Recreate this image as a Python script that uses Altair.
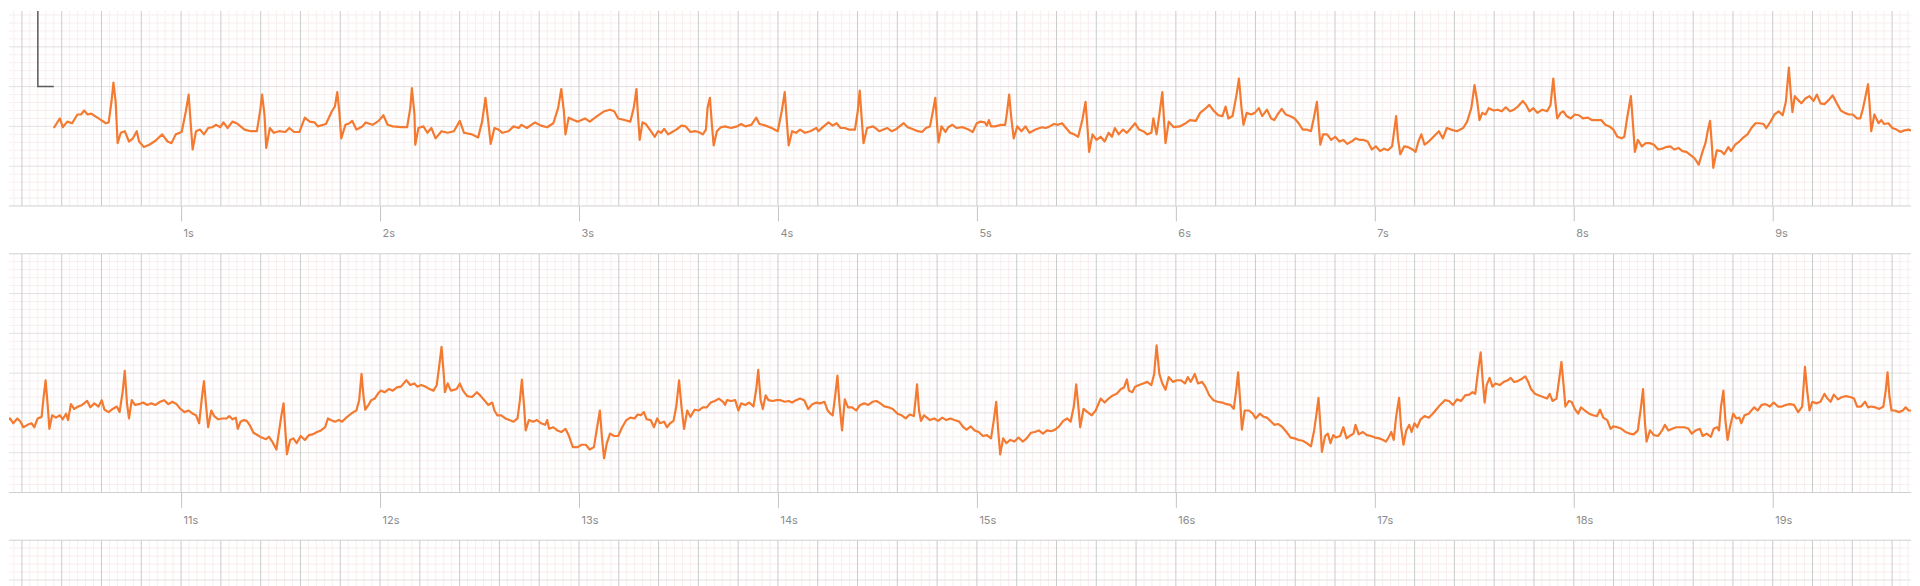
import altair as alt
import pandas as pd

# ---------------- data (time in s, amplitude in mV) ----------------
CAL = [(0.0, 0.5), (0.08, 0.5), (0.08, 1.5), (0.28, 1.5), (0.28, 0.5), (0.36, 0.5)]

ROW1_A = [(0.360,-0.02),(0.391,0.10),(0.405,-0.01),(0.428,0.06),(0.452,0.04),(0.479,0.15),(0.497,0.15),(0.513,0.20),(0.530,0.15),(0.548,0.16),(0.585,0.10),(0.622,0.04),(0.636,0.05),(0.650,0.31),(0.660,0.55),(0.671,0.31),(0.681,-0.21),(0.697,-0.08),(0.717,-0.06),(0.738,-0.19),(0.758,-0.15),(0.777,-0.06),(0.789,-0.19),(0.813,-0.26),(0.840,-0.23),(0.871,-0.18),(0.905,-0.10),(0.932,-0.19),(0.952,-0.21),(0.973,-0.10),(1.003,-0.07),(1.024,0.19),(1.038,0.40),(1.050,-0.02),(1.058,-0.29),(1.075,-0.06),(1.095,-0.04),(1.115,-0.10),(1.136,-0.02),(1.156,-0.01),(1.177,0.02),(1.197,-0.01),(1.213,0.05),(1.234,-0.02),(1.258,0.06),(1.279,0.04),(1.319,-0.04),(1.350,-0.06),(1.381,-0.06),(1.397,0.19),(1.407,0.40),(1.419,0.15),(1.428,-0.27),(1.446,-0.02),(1.466,-0.08),(1.493,-0.06),(1.524,-0.07),(1.544,-0.02),(1.568,-0.07),(1.595,-0.07),(1.622,0.11),(1.646,0.06),(1.671,0.05),(1.687,0.00),(1.728,0.03),(1.758,0.19),(1.773,0.25),(1.785,0.43),(1.795,0.19),(1.805,-0.15),(1.826,0.02),(1.846,0.04),(1.860,0.07),(1.881,-0.04),(1.911,0.00),(1.928,0.05),(1.962,0.02),(1.993,0.07),(2.017,0.14),(2.038,0.02),(2.064,0.00),(2.105,-0.01),(2.136,-0.01),(2.152,0.23),(2.160,0.48),(2.173,0.15),(2.177,-0.23),(2.193,-0.02),(2.218,0.00),(2.238,-0.08),(2.258,-0.02),(2.279,-0.15),(2.309,-0.06),(2.340,-0.08),(2.371,-0.06),(2.401,0.07),(2.422,-0.08),(2.462,-0.10),(2.493,-0.14),(2.513,0.06),(2.530,0.36),(2.544,0.06),(2.556,-0.22),(2.575,-0.02),(2.595,-0.04),(2.615,-0.08),(2.646,-0.06),(2.671,0.00),(2.697,-0.02),(2.711,0.02),(2.738,-0.02),(2.779,0.05),(2.809,0.01),(2.840,-0.01),(2.871,0.04),(2.895,0.23),(2.911,0.47),(2.924,0.19),(2.932,-0.10),(2.948,0.11),(2.973,0.08),(2.993,0.06),(3.030,0.10),(3.054,0.06),(3.091,0.13),(3.126,0.19),(3.156,0.21),(3.177,0.19),(3.197,0.10),(3.228,0.08),(3.258,0.06),(3.275,0.23),(3.289,0.47)]

ROW1_B = [(3.295,0.19),(3.305,-0.17),(3.319,0.05),(3.336,0.03),(3.356,-0.04),(3.381,-0.13),(3.397,-0.06),(3.413,-0.08),(3.428,-0.03),(3.448,-0.10),(3.468,-0.07),(3.489,-0.04),(3.515,0.01),(3.536,0.00),(3.560,-0.07),(3.581,-0.06),(3.601,-0.07),(3.622,-0.10),(3.638,-0.04),(3.646,0.23),(3.658,0.36),(3.668,0.02),(3.677,-0.24),(3.693,-0.06),(3.713,-0.01),(3.734,0.00),(3.764,-0.02),(3.795,0.00),(3.815,0.03),(3.836,0.00),(3.866,0.02),(3.891,0.11),(3.907,0.03),(3.938,0.01),(3.968,-0.02),(3.999,-0.06),(4.019,0.19),(4.034,0.43),(4.046,0.02),(4.054,-0.24),(4.071,-0.06),(4.091,-0.08),(4.111,-0.04),(4.136,-0.08),(4.162,-0.06),(4.193,-0.02),(4.203,-0.06),(4.230,0.00),(4.254,0.05),(4.275,0.01),(4.295,0.04),(4.315,-0.02),(4.336,-0.02),(4.356,-0.04),(4.387,-0.04),(4.401,0.19),(4.411,0.45),(4.422,0.06),(4.430,-0.21),(4.448,-0.02),(4.479,0.00),(4.509,-0.06),(4.530,-0.04),(4.550,-0.02),(4.571,-0.06),(4.591,-0.04),(4.611,0.00),(4.632,0.04),(4.652,-0.01),(4.673,-0.03),(4.703,-0.06),(4.724,-0.07),(4.744,-0.02),(4.764,0.00),(4.779,0.19),(4.791,0.36),(4.801,-0.02),(4.807,-0.20),(4.822,0.00),(4.842,-0.07),(4.856,-0.01),(4.877,0.02),(4.897,-0.02),(4.928,-0.01),(4.958,-0.04),(4.979,-0.07),(4.999,0.04),(5.019,0.06),(5.040,0.05),(5.050,0.01),(5.060,0.08),(5.071,0.00),(5.091,0.00),(5.122,0.02),(5.142,0.02),(5.152,0.19),(5.162,0.40),(5.173,0.10),(5.185,-0.15),(5.203,0.00),(5.224,-0.06),(5.244,0.00),(5.264,-0.08),(5.295,-0.04),(5.326,-0.01),(5.346,-0.02),(5.366,0.00),(5.387,0.03),(5.407,0.02),(5.428,0.04),(5.448,-0.02),(5.468,-0.08),(5.489,-0.10),(5.509,-0.13),(5.530,0.08),(5.546,0.31),(5.556,-0.02),(5.564,-0.32),(5.581,-0.10),(5.601,-0.17),(5.622,-0.13),(5.642,-0.19),(5.662,-0.08),(5.679,-0.13),(5.693,-0.02),(5.713,-0.10),(5.734,-0.04),(5.754,-0.08),(5.775,-0.02),(5.795,0.04),(5.815,-0.04),(5.836,-0.06),(5.856,-0.10),(5.877,-0.08),(5.887,0.10),(5.903,-0.10),(5.917,0.15),(5.932,0.43),(5.942,0.02),(5.948,-0.21),(5.964,0.06),(5.989,-0.01),(6.019,0.00),(6.050,0.04),(6.071,0.08),(6.101,0.07),(6.122,0.17),(6.142,0.21),(6.168,0.27),(6.189,0.20),(6.213,0.14),(6.234,0.13),(6.250,0.25),(6.264,0.10),(6.285,0.13),(6.305,0.40),(6.317,0.60),(6.330,0.23),(6.340,0.02),(6.356,0.17),(6.377,0.15),(6.397,0.17),(6.417,0.23),(6.434,0.13),(6.458,0.21),(6.479,0.10),(6.495,0.08)]

ROW1_C = [(6.511,0.15),(6.532,0.22),(6.552,0.15),(6.573,0.13),(6.597,0.10),(6.617,0.04),(6.638,-0.04),(6.658,-0.04),(6.679,-0.06),(6.693,0.10),(6.709,0.31),(6.719,-0.02),(6.726,-0.23),(6.740,-0.10),(6.760,-0.10),(6.781,-0.17),(6.801,-0.13),(6.822,-0.19),(6.842,-0.17),(6.862,-0.22),(6.883,-0.19),(6.903,-0.15),(6.924,-0.17),(6.944,-0.17),(6.964,-0.19),(6.985,-0.29),(7.005,-0.25),(7.026,-0.31),(7.046,-0.28),(7.066,-0.30),(7.087,-0.25),(7.107,0.13),(7.117,-0.17),(7.128,-0.35),(7.148,-0.25),(7.168,-0.26),(7.189,-0.29),(7.205,-0.32),(7.219,-0.19),(7.234,-0.10),(7.250,-0.23),(7.271,-0.19),(7.295,-0.13),(7.322,-0.06),(7.342,-0.15),(7.362,-0.02),(7.383,-0.04),(7.413,-0.06),(7.444,-0.02),(7.464,0.06),(7.485,0.23),(7.501,0.52),(7.515,0.31),(7.526,0.08),(7.540,0.17),(7.556,0.15),(7.573,0.23),(7.597,0.20),(7.617,0.21),(7.638,0.19),(7.658,0.24),(7.679,0.19),(7.699,0.21),(7.719,0.25),(7.744,0.32),(7.760,0.27),(7.777,0.19),(7.797,0.23),(7.817,0.17),(7.842,0.21),(7.866,0.19),(7.883,0.27),(7.897,0.60),(7.909,0.27),(7.917,0.10),(7.934,0.17),(7.948,0.19),(7.964,0.13),(7.985,0.10),(8.005,0.15),(8.026,0.14),(8.046,0.10),(8.071,0.11),(8.091,0.08),(8.111,0.08),(8.138,0.08),(8.158,0.02),(8.179,0.00),(8.199,-0.04),(8.219,-0.13),(8.240,-0.15),(8.254,-0.13),(8.271,0.15),(8.287,0.38),(8.299,-0.02),(8.307,-0.32),(8.322,-0.17),(8.342,-0.25),(8.362,-0.21),(8.383,-0.21),(8.403,-0.23),(8.424,-0.29),(8.444,-0.28),(8.464,-0.26),(8.485,-0.25),(8.505,-0.29),(8.526,-0.27),(8.546,-0.31),(8.566,-0.32),(8.587,-0.36),(8.607,-0.40),(8.628,-0.48),(8.648,-0.31),(8.662,-0.21),(8.673,-0.06),(8.685,0.07),(8.695,-0.27),(8.701,-0.52),(8.719,-0.30),(8.740,-0.31),(8.756,-0.35),(8.777,-0.26),(8.791,-0.31),(8.811,-0.23),(8.832,-0.19),(8.852,-0.14),(8.873,-0.10),(8.893,-0.02),(8.913,0.04),(8.934,0.04),(8.954,0.03),(8.968,-0.02),(8.989,0.06),(9.009,0.15),(9.030,0.19),(9.050,0.14),(9.066,0.31),(9.081,0.74),(9.091,0.40),(9.099,0.18),(9.111,0.38),(9.128,0.33),(9.144,0.29),(9.164,0.35),(9.185,0.38),(9.205,0.32),(9.222,0.40),(9.240,0.29),(9.260,0.28),(9.281,0.33),(9.301,0.39),(9.322,0.29),(9.342,0.20),(9.362,0.17),(9.383,0.15),(9.403,0.15),(9.424,0.10),(9.440,0.10),(9.454,0.23),(9.479,0.53),(9.487,0.27),(9.495,-0.06),(9.511,0.15),(9.532,0.04),(9.546,0.08),(9.560,0.03),(9.581,0.04),(9.601,-0.02),(9.622,-0.04),(9.642,-0.07),(9.662,-0.05),(9.683,-0.04),(9.695,-0.05),(9.750,-0.05)]

ROW2_A = [(10.050,-0.08),(10.095,-0.09),(10.111,-0.06),(10.126,-0.09),(10.140,-0.07),(10.156,-0.13),(10.177,-0.07),(10.193,-0.11),(10.207,-0.18),(10.228,-0.15),(10.248,-0.13),(10.262,-0.18),(10.279,-0.07),(10.299,-0.05),(10.309,0.20),(10.319,0.41),(10.330,0.08),(10.338,-0.20),(10.352,-0.03),(10.371,-0.06),(10.391,-0.03),(10.405,-0.08),(10.422,-0.01),(10.432,-0.09),(10.446,0.11),(10.462,0.05),(10.483,0.08),(10.503,0.10),(10.528,0.15),(10.544,0.07),(10.564,0.12),(10.585,0.08),(10.601,0.16),(10.615,0.04),(10.636,0.01),(10.656,0.05),(10.677,0.08),(10.691,0.01),(10.707,0.28),(10.717,0.53),(10.728,0.12),(10.738,-0.07),(10.752,0.16),(10.768,0.10),(10.789,0.11),(10.809,0.13),(10.830,0.10),(10.850,0.12),(10.871,0.10),(10.895,0.14),(10.915,0.16),(10.936,0.11),(10.956,0.14),(10.977,0.11),(10.997,0.05),(11.017,0.01),(11.038,0.03),(11.058,-0.01),(11.075,-0.03),(11.091,-0.13),(11.105,0.20),(11.115,0.40),(11.126,0.08),(11.136,-0.18),(11.152,0.03),(11.166,-0.04),(11.187,-0.08),(11.207,-0.07),(11.228,-0.07),(11.242,-0.04),(11.258,-0.08),(11.275,-0.06),(11.285,-0.20),(11.299,-0.11),(11.315,-0.09),(11.330,-0.10),(11.344,-0.15),(11.364,-0.25),(11.385,-0.28),(11.405,-0.31),(11.426,-0.33),(11.442,-0.30),(11.458,-0.36),(11.479,-0.46),(11.493,-0.22),(11.503,-0.05),(11.515,0.12),(11.524,-0.22),(11.532,-0.52),(11.548,-0.34),(11.564,-0.32),(11.581,-0.38),(11.601,-0.29),(11.622,-0.34),(11.642,-0.28),(11.662,-0.27),(11.683,-0.24),(11.703,-0.22),(11.724,-0.18),(11.738,-0.07),(11.752,-0.09),(11.773,-0.11),(11.793,-0.09),(11.809,-0.11),(11.830,-0.06),(11.850,-0.02),(11.866,0.01),(11.881,0.03),(11.895,0.16),(11.907,0.49),(11.917,0.20),(11.926,0.04),(11.942,0.10),(11.956,0.16),(11.973,0.18),(11.989,0.24),(12.003,0.28),(12.024,0.26),(12.044,0.30),(12.064,0.28),(12.085,0.32),(12.105,0.33),(12.132,0.41),(12.152,0.35),(12.173,0.37),(12.187,0.33),(12.207,0.35),(12.228,0.33),(12.248,0.30),(12.269,0.28),(12.285,0.35),(12.299,0.62),(12.309,0.83),(12.320,0.49),(12.326,0.26),(12.340,0.37),(12.356,0.28),(12.371,0.29),(12.385,0.30),(12.401,0.37),(12.417,0.28),(12.438,0.21),(12.462,0.20),(12.487,0.26),(12.503,0.22),(12.524,0.16),(12.544,0.10),(12.564,0.13),(12.575,0.03),(12.589,-0.03),(12.609,-0.03),(12.630,-0.07),(12.650,-0.09),(12.671,-0.11),(12.691,-0.07),(12.703,0.16),(12.713,0.42),(12.724,0.08),(12.732,-0.22),(12.748,-0.09),(12.769,-0.11),(12.789,-0.09),(12.809,-0.13),(12.830,-0.15),(12.840,-0.09),(12.850,-0.20),(12.871,-0.18),(12.891,-0.22),(12.911,-0.24),(12.932,-0.20),(12.948,-0.28),(12.969,-0.43),(12.993,-0.43),(13.013,-0.40),(13.034,-0.40),(13.054,-0.46),(13.075,-0.43),(13.091,-0.18),(13.105,0.03),(13.115,-0.30),(13.126,-0.57),(13.140,-0.38),(13.156,-0.26),(13.177,-0.29),(13.197,-0.29),(13.217,-0.18),(13.238,-0.09),(13.258,-0.06),(13.279,-0.07),(13.295,-0.02)]

ROW2_B = [(13.311,-0.03),(13.326,0.01),(13.340,-0.08),(13.360,-0.09),(13.377,-0.18),(13.393,-0.07),(13.407,-0.13),(13.428,-0.11),(13.442,-0.18),(13.458,-0.13),(13.475,-0.10),(13.489,0.08),(13.503,0.41),(13.515,0.08),(13.528,-0.20),(13.544,0.03),(13.560,-0.05),(13.581,0.04),(13.601,0.03),(13.622,0.07),(13.642,0.07),(13.662,0.13),(13.683,0.15),(13.703,0.18),(13.724,0.14),(13.734,0.10),(13.744,0.16),(13.764,0.15),(13.785,0.16),(13.801,0.03),(13.815,0.12),(13.836,0.10),(13.856,0.13),(13.877,0.08),(13.891,0.30),(13.901,0.54),(13.913,0.16),(13.924,0.05),(13.938,0.22),(13.952,0.16),(13.973,0.15),(13.993,0.16),(14.013,0.16),(14.034,0.14),(14.054,0.15),(14.071,0.13),(14.091,0.16),(14.111,0.18),(14.132,0.16),(14.152,0.05),(14.173,0.11),(14.193,0.13),(14.213,0.12),(14.234,0.14),(14.250,0.03),(14.264,-0.01),(14.275,-0.03),(14.287,0.20),(14.299,0.47),(14.309,0.12),(14.322,-0.22),(14.336,0.17),(14.352,0.07),(14.373,0.07),(14.393,0.03),(14.413,0.10),(14.434,0.12),(14.454,0.10),(14.475,0.14),(14.495,0.15),(14.515,0.12),(14.536,0.08),(14.556,0.07),(14.577,0.05),(14.601,-0.01),(14.622,-0.03),(14.642,-0.07),(14.662,-0.02),(14.683,-0.04),(14.693,0.20),(14.699,0.36),(14.709,0.03),(14.719,-0.10),(14.734,-0.03),(14.748,-0.06),(14.764,-0.09),(14.785,-0.07),(14.805,-0.10),(14.826,-0.06),(14.846,-0.09),(14.866,-0.07),(14.887,-0.09),(14.911,-0.11),(14.932,-0.18),(14.948,-0.21),(14.969,-0.17),(14.989,-0.22),(15.009,-0.24),(15.030,-0.29),(15.050,-0.28),(15.071,-0.32),(15.085,-0.09),(15.097,0.14),(15.107,-0.22),(15.117,-0.52),(15.132,-0.32),(15.148,-0.38),(15.168,-0.34),(15.189,-0.36),(15.209,-0.31),(15.230,-0.36),(15.250,-0.32),(15.271,-0.25),(15.291,-0.24),(15.311,-0.22),(15.332,-0.26),(15.352,-0.22),(15.373,-0.23),(15.393,-0.21),(15.413,-0.17),(15.434,-0.10),(15.454,-0.07),(15.471,-0.11),(15.487,0.08),(15.499,0.36),(15.511,0.05),(15.519,-0.18),(15.536,0.05),(15.556,0.01),(15.577,-0.03),(15.597,0.03),(15.622,0.18),(15.642,0.13),(15.662,0.18),(15.683,0.22),(15.703,0.24),(15.724,0.30),(15.740,0.32),(15.754,0.42),(15.764,0.28),(15.781,0.26),(15.795,0.33),(15.815,0.35),(15.836,0.37),(15.856,0.39),(15.877,0.35),(15.891,0.49),(15.903,0.85),(15.917,0.49),(15.932,0.37),(15.948,0.29),(15.964,0.45),(15.985,0.39),(16.005,0.41),(16.026,0.41),(16.046,0.37),(16.060,0.45),(16.075,0.39),(16.095,0.49),(16.111,0.37),(16.132,0.39),(16.148,0.33),(16.168,0.22),(16.189,0.16),(16.209,0.14),(16.234,0.13),(16.254,0.11),(16.275,0.10),(16.291,0.05),(16.303,0.28),(16.313,0.51),(16.324,0.12),(16.332,-0.21),(16.346,0.03),(16.367,0.03),(16.387,-0.01),(16.401,-0.07),(16.422,-0.01),(16.442,-0.05),(16.458,-0.06),(16.479,-0.11),(16.495,-0.15)]

ROW2_C = [(16.515,-0.14),(16.536,-0.18),(16.556,-0.24),(16.577,-0.31),(16.597,-0.32),(16.617,-0.34),(16.638,-0.35),(16.658,-0.38),(16.679,-0.42),(16.695,-0.22),(16.707,-0.01),(16.717,0.19),(16.728,-0.22),(16.734,-0.49),(16.750,-0.29),(16.764,-0.26),(16.777,-0.38),(16.791,-0.28),(16.805,-0.31),(16.826,-0.29),(16.842,-0.18),(16.858,-0.32),(16.879,-0.28),(16.893,-0.26),(16.903,-0.15),(16.919,-0.27),(16.940,-0.24),(16.960,-0.28),(16.981,-0.29),(17.001,-0.31),(17.022,-0.32),(17.042,-0.34),(17.056,-0.36),(17.071,-0.30),(17.083,-0.24),(17.095,-0.34),(17.107,-0.05),(17.122,0.19),(17.132,-0.18),(17.144,-0.40),(17.158,-0.22),(17.173,-0.15),(17.185,-0.24),(17.199,-0.13),(17.213,-0.18),(17.230,-0.08),(17.250,-0.04),(17.271,-0.06),(17.291,-0.01),(17.311,0.05),(17.332,0.11),(17.352,0.16),(17.373,0.15),(17.393,0.10),(17.413,0.17),(17.434,0.15),(17.454,0.22),(17.475,0.23),(17.491,0.26),(17.505,0.24),(17.519,0.53),(17.532,0.76),(17.542,0.41),(17.552,0.13),(17.562,0.35),(17.577,0.44),(17.591,0.33),(17.607,0.37),(17.628,0.35),(17.648,0.39),(17.668,0.41),(17.683,0.44),(17.699,0.39),(17.719,0.40),(17.740,0.43),(17.756,0.46),(17.771,0.39),(17.785,0.30),(17.805,0.24),(17.826,0.22),(17.846,0.20),(17.866,0.18),(17.879,0.24),(17.893,0.15),(17.913,0.18),(17.928,0.45),(17.938,0.64),(17.948,0.37),(17.958,0.08),(17.975,0.15),(17.989,0.14),(18.005,0.05),(18.022,-0.01),(18.036,0.07),(18.056,0.03),(18.077,-0.01),(18.097,-0.03),(18.117,-0.04),(18.132,0.04),(18.148,-0.06),(18.168,-0.09),(18.185,-0.20),(18.199,-0.17),(18.219,-0.18),(18.240,-0.20),(18.260,-0.24),(18.281,-0.26),(18.301,-0.27),(18.322,-0.22),(18.338,0.08),(18.348,0.30),(18.358,-0.13),(18.366,-0.36),(18.383,-0.22),(18.403,-0.28),(18.424,-0.29),(18.444,-0.22),(18.458,-0.15),(18.475,-0.22),(18.495,-0.20),(18.515,-0.18),(18.536,-0.18),(18.556,-0.18),(18.577,-0.20),(18.593,-0.26),(18.613,-0.22),(18.634,-0.20),(18.648,-0.29),(18.668,-0.26),(18.689,-0.30),(18.703,-0.20),(18.720,-0.18),(18.730,-0.22),(18.740,0.08),(18.752,0.28),(18.762,-0.09),(18.773,-0.34),(18.785,-0.18),(18.801,-0.01),(18.817,-0.07),(18.832,-0.06),(18.842,-0.13),(18.858,-0.03),(18.879,-0.01),(18.893,0.03),(18.907,0.07),(18.924,0.03),(18.944,0.10),(18.964,0.11),(18.985,0.08),(19.005,0.13),(19.026,0.08),(19.046,0.08),(19.066,0.10),(19.087,0.11),(19.107,0.10),(19.128,0.01),(19.148,0.08),(19.162,0.58),(19.173,0.28),(19.185,0.03),(19.199,0.14),(19.220,0.12),(19.240,0.14),(19.260,0.24),(19.275,0.18),(19.291,0.14),(19.307,0.23),(19.328,0.17),(19.348,0.20),(19.368,0.21),(19.389,0.20),(19.409,0.18),(19.424,0.08),(19.444,0.08),(19.464,0.14),(19.479,0.07),(19.495,0.08),(19.515,0.07),(19.536,0.05),(19.556,0.08),(19.568,0.28),(19.577,0.51),(19.587,0.20),(19.597,0.03),(19.613,0.03),(19.634,0.01),(19.654,0.03),(19.668,0.07),(19.683,0.03),(19.695,0.03),(19.750,0.03)]

ROW1_TICKS = [1, 2, 3, 4, 5, 6, 7, 8, 9]
ROW2_TICKS = [11, 12, 13, 14, 15, 16, 17, 18, 19]

# ---------------- styling ----------------
TRACE = "#f37a30"
CAL_COLOR = "#5a5a5a"
MINOR = "#f8eeee"
MAJOR_V = "#cbcbcb"
MAJOR_H = "#e6dfdf"
EDGE_H = "#d0d0d0"
W = 1912


def to_df(pairs):
    return pd.DataFrame({"t": [p[0] for p in pairs], "v": [p[1] for p in pairs],
                         "i": list(range(len(pairs)))})


def panel(t0, t1, v0, v1, h, trace=None, cal=None, ticks=None):
    xs = alt.Scale(domain=[t0, t1], nice=False, zero=False)
    ys = alt.Scale(domain=[v0, v1], nice=False, zero=False)
    if ticks:
        xaxis = alt.Axis(values=ticks, labelExpr="datum.value + 's'", labelAlign="left",
                         labelOffset=2, labelPadding=7, tickSize=15, tickColor="#c4c4c4",
                         labelColor="#8c8c8c", labelFontSize=11, labelFont="Inter",
                         domain=False, grid=False, title=None, labelFlush=False,
                         labelOverlap=False)
    else:
        xaxis = None

    k0 = int(t0 / 0.04) + 1
    k1 = int(t1 / 0.04)
    vminor = pd.DataFrame({"t": [k * 0.04 for k in range(k0, k1 + 1) if k % 5]})
    vmajor = pd.DataFrame({"t": [k * 0.04 for k in range(k0, k1 + 1) if k % 5 == 0]})
    j0 = int(round(v0 * 10))
    j1 = int(round(v1 * 10 - 0.5))
    hminor = pd.DataFrame({"v": [j / 10 for j in range(j0, j1 + 1) if j % 5]})
    hmajor = pd.DataFrame({"v": [j / 10 for j in range(j0, j1 + 1) if j % 5 == 0 and j not in (-10, 20)]})
    hedge = pd.DataFrame({"v": [j / 10 for j in (-10, 20) if j0 <= j <= j1 + 1]})

    X = lambda: alt.X("t:Q", scale=xs, axis=xaxis)
    Y = lambda: alt.Y("v:Q", scale=ys, axis=None)

    layers = [
        alt.Chart(vminor).mark_rule(color=MINOR, strokeWidth=1).encode(x=X()),
        alt.Chart(hminor).mark_rule(color=MINOR, strokeWidth=1).encode(y=Y()),
        alt.Chart(hmajor).mark_rule(color=MAJOR_H, strokeWidth=1).encode(y=Y()),
        alt.Chart(vmajor).mark_rule(color=MAJOR_V, strokeWidth=1).encode(x=X()),
    ]
    if len(hedge):
        layers.append(alt.Chart(hedge).mark_rule(color=EDGE_H, strokeWidth=1).encode(y=Y()))
    if cal is not None:
        layers.append(alt.Chart(to_df(cal)).mark_line(color=CAL_COLOR, strokeWidth=1.5, clip=True)
                      .encode(x=X(), y=Y(), order="i:Q"))
    if trace is not None:
        layers.append(alt.Chart(to_df(trace)).mark_line(color=TRACE, strokeWidth=2.2, clip=True,
                                                        strokeJoin="round")
                      .encode(x=X(), y=Y(), order="i:Q"))
    return alt.layer(*layers).properties(width=W, height=h)


row1 = panel(0.135, 9.695, -1.0, 1.45, 196, trace=ROW1_A + ROW1_B + ROW1_C, cal=CAL,
             ticks=ROW1_TICKS)
row2 = panel(10.135, 19.695, -1.0, 2.0, 240, trace=ROW2_A + ROW2_B + ROW2_C, ticks=ROW2_TICKS)
row3 = panel(20.135, 29.695, -1.0, 2.0, 240)

chart = (alt.vconcat(row1, row2, row3, spacing=48, bounds="flush")
         .properties(padding=0, background="white")
         .configure_view(stroke=None))

chart.save("out.html", embed_options={"renderer": "svg", "actions": False})
